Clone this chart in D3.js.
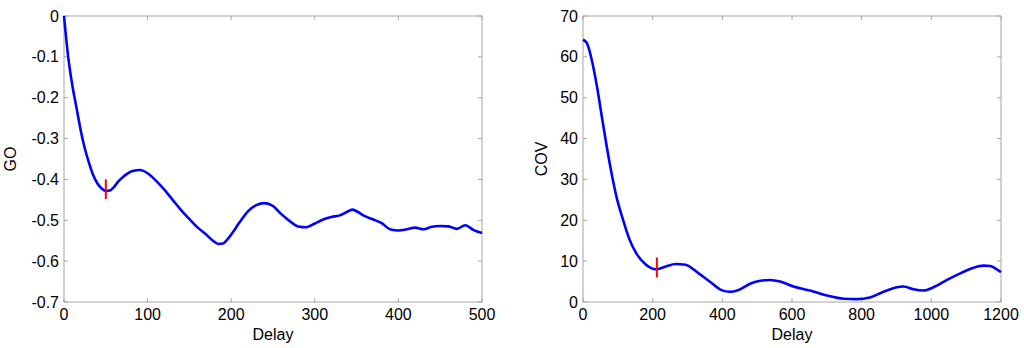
<!DOCTYPE html>
<html>
<head>
<meta charset="utf-8">
<script src="https://cdn.jsdelivr.net/npm/d3@7"></script>
<style>
  body { margin: 0; background: #fff; }
  text { font-family: "Liberation Sans", Arial, sans-serif; }
</style>
</head>
<body>
<div id="draw"></div>
<script>
// left panel: GO vs delay
var goDelay = [0, 5, 10, 15, 20, 25, 30, 35, 40, 45, 50, 55, 60, 65, 70, 75, 80, 85, 90, 95,
    100, 110, 120, 130, 140, 150, 160, 170, 180, 185, 190, 195, 200, 210, 220, 230, 240, 250,
    260, 270, 280, 290, 300, 310, 320, 330, 340, 345, 350, 360, 370, 380, 390, 400, 410, 420,
    430, 440, 450, 460, 470, 480, 490, 500];
var goValues = [0, -0.10, -0.17, -0.225, -0.28, -0.325, -0.36, -0.39, -0.41, -0.422, -0.428,
    -0.427, -0.418, -0.405, -0.395, -0.387, -0.381, -0.378, -0.377, -0.379,
    -0.385, -0.403, -0.425, -0.45, -0.475, -0.497, -0.518, -0.535, -0.553, -0.558, -0.557,
    -0.548, -0.535, -0.505, -0.478, -0.463, -0.458, -0.465, -0.485, -0.502, -0.515, -0.517,
    -0.508, -0.498, -0.492, -0.488, -0.478, -0.474, -0.478, -0.49, -0.498, -0.507, -0.522,
    -0.525, -0.522, -0.518, -0.522, -0.516, -0.514, -0.515, -0.521, -0.512, -0.524, -0.531];
var goMarker = {x: 50, y0: -0.40, y1: -0.448};
var goXTicks = [0, 100, 200, 300, 400, 500];
var goYTicks = [0, -0.1, -0.2, -0.3, -0.4, -0.5, -0.6, -0.7];

// right panel: COV vs delay
var covDelay = [0, 11, 25, 40, 54, 68, 82, 96, 115, 134, 153, 181, 209, 238, 266, 294, 332,
    370, 398, 422, 445, 483, 510, 537, 566, 604, 652, 700, 748, 786, 824, 863, 901, 920, 949,
    978, 1006, 1045, 1083, 1121, 1150, 1169, 1188, 1200];
var covValues = [64.2, 63.4, 59.3, 52.8, 45.4, 38.1, 31.5, 25.8, 20.1, 15.2, 11.9, 9.1, 8.0,
    8.7, 9.3, 9.1, 7.0, 4.6, 2.9, 2.5, 2.9, 4.6, 5.2, 5.4, 5.0, 3.8, 2.8, 1.6, 0.8, 0.7, 1.1,
    2.5, 3.6, 3.8, 3.1, 2.8, 3.6, 5.4, 7.0, 8.4, 8.9, 8.8, 8.0, 7.3];
var covMarker = {x: 212, y0: 10.9, y1: 6.0};
var covXTicks = [0, 200, 400, 600, 800, 1000, 1200];
var covYTicks = [0, 10, 20, 30, 40, 50, 60, 70];

var svg = d3.select('#draw').append('svg')
    .attr('width', 1024).attr('height', 348);

function fmt(v) {
    // matlab-ish tick labels: 0, -0.1 ...
    return Math.abs(v) < 1e-9 ? '0' : String(+v.toFixed(2));
}

function panel(opts) {
    var x = d3.scaleLinear().domain(opts.xDomain).range([opts.left, opts.right]),
        y = d3.scaleLinear().domain(opts.yDomain).range([opts.bottom, opts.top]);
    var g = svg.append('g');
    var frame = '#a6a6a6',
        fs = 16;

    // frame
    g.append('rect')
        .attr('x', opts.left).attr('y', opts.top)
        .attr('width', opts.right - opts.left).attr('height', opts.bottom - opts.top)
        .attr('fill', 'none').attr('stroke', frame).attr('stroke-width', 1);

    // ticks, inward on all four sides
    var tl = 4;
    opts.xTicks.forEach(function (t) {
        g.append('line').attr('x1', x(t)).attr('x2', x(t))
            .attr('y1', opts.bottom).attr('y2', opts.bottom - tl).attr('stroke', frame);
        g.append('line').attr('x1', x(t)).attr('x2', x(t))
            .attr('y1', opts.top).attr('y2', opts.top + tl).attr('stroke', frame);
        g.append('text').attr('x', x(t)).attr('y', opts.bottom + 18)
            .attr('text-anchor', 'middle').attr('font-size', fs).attr('fill', '#000')
            .text(fmt(t));
    });
    opts.yTicks.forEach(function (t) {
        g.append('line').attr('x1', opts.left).attr('x2', opts.left + tl)
            .attr('y1', y(t)).attr('y2', y(t)).attr('stroke', frame);
        g.append('line').attr('x1', opts.right).attr('x2', opts.right - tl)
            .attr('y1', y(t)).attr('y2', y(t)).attr('stroke', frame);
        g.append('text').attr('x', opts.left - 5).attr('y', y(t) + 5.5)
            .attr('text-anchor', 'end').attr('font-size', fs).attr('fill', '#000')
            .text(fmt(t));
    });

    // axis labels
    g.append('text').attr('x', (opts.left + opts.right) / 2).attr('y', 340)
        .attr('text-anchor', 'middle').attr('font-size', fs).text('Delay');
    g.append('text')
        .attr('transform', 'translate(' + opts.yLabelX + ',' + ((opts.top + opts.bottom) / 2) + ') rotate(-90)')
        .attr('text-anchor', 'middle').attr('font-size', fs).text(opts.yLabel);

    var pts = opts.xs.map(function (d, i) { return [d, opts.ys[i]]; });
    var line = d3.line()
        .x(function (d) { return x(d[0]); })
        .y(function (d) { return y(d[1]); })
        .curve(d3.curveMonotoneX);
    g.append('path').datum(pts)
        .attr('d', line)
        .attr('fill', 'none').attr('stroke', '#0000ff')
        .attr('stroke-width', 2.6).attr('stroke-linejoin', 'round');

    // red marker
    g.append('line')
        .attr('x1', x(opts.marker.x)).attr('x2', x(opts.marker.x))
        .attr('y1', y(opts.marker.y0)).attr('y2', y(opts.marker.y1))
        .attr('stroke', '#ff0000').attr('stroke-width', 2);
}

panel({
    left: 64, right: 482, top: 16, bottom: 302,
    xDomain: [0, 500], yDomain: [-0.7, 0],
    xTicks: goXTicks, yTicks: goYTicks,
    xs: goDelay, ys: goValues, marker: goMarker,
    yLabel: 'GO', yLabelX: 16
});

panel({
    left: 583, right: 1001, top: 16, bottom: 302,
    xDomain: [0, 1200], yDomain: [0, 70],
    xTicks: covXTicks, yTicks: covYTicks,
    xs: covDelay, ys: covValues, marker: covMarker,
    yLabel: 'COV', yLabelX: 547
});
</script>
</body>
</html>
